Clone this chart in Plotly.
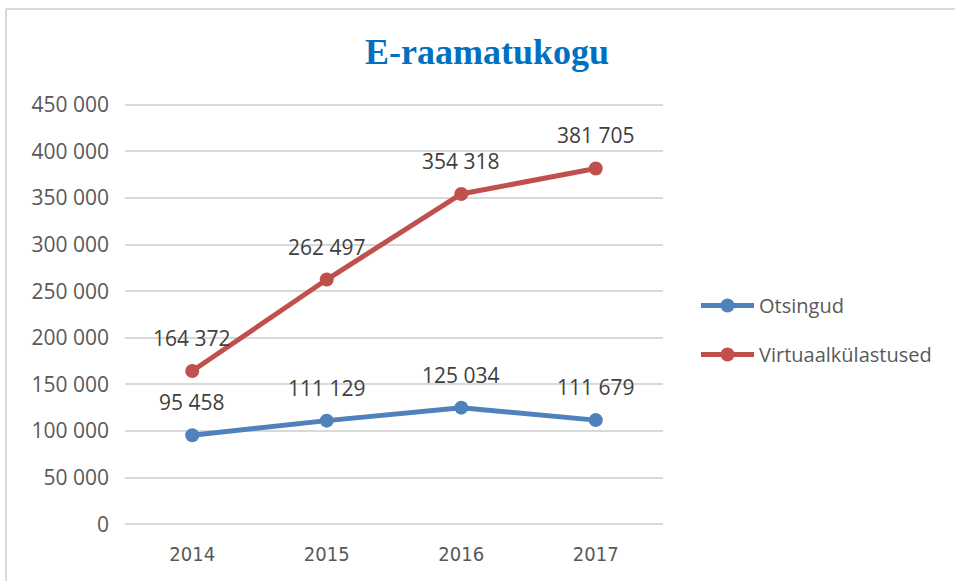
import plotly.graph_objects as go

years = ["2014", "2015", "2016", "2017"]
otsingud = [95458, 111129, 125034, 111679]
virtuaal = [164372, 262497, 354318, 381705]
series_names = ["Otsingud", "Virtuaalkülastused"]
colors = ["#4F81BD", "#C0504D"]
y_ticks = [0, 50000, 100000, 150000, 200000, 250000, 300000, 350000, 400000, 450000]


def fmt(v):
    return f"{v:,}".replace(",", " ")


W, H = 955, 581
L, R, T, B = 125, 292, 102, 54
pw, ph = W - L - R, H - T - B

fig = go.Figure()
for i, (name, vals) in enumerate(zip(series_names, [otsingud, virtuaal])):
    fig.add_trace(go.Scatter(
        x=years, y=vals, name=name, mode="lines+markers",
        line=dict(color=colors[i], width=5),
        marker=dict(color=colors[i], size=14),
        legendgroup=name,
    ))
    for k, yy in enumerate(vals):
        fig.add_annotation(x=k, y=yy, xref="x", yref="y", text=fmt(yy), showarrow=False,
                           yshift=33, font=dict(family="Open Sans", size=21, color="#404040"))


def px_x(p):
    return (p - L) / pw


def px_y(p):
    return (H - B - p) / ph


# chart border (top and left)
fig.add_shape(type="line", xref="paper", yref="paper", x0=px_x(6), x1=px_x(960), y0=px_y(9), y1=px_y(9),
              line=dict(color="#D9D9D9", width=2))
fig.add_shape(type="line", xref="paper", yref="paper", x0=px_x(6), x1=px_x(6), y0=px_y(9), y1=px_y(590),
              line=dict(color="#D9D9D9", width=2))

fig.update_layout(
    width=W, height=H,
    margin=dict(l=L, r=R, t=T, b=B),
    paper_bgcolor="white", plot_bgcolor="white",
    separators=", ",
    title=dict(text="<b>E-raamatukogu</b>", x=487 / W, xanchor="center", y=1 - 51 / H, yanchor="middle",
               font=dict(family="Liberation Serif", size=36, color="#0070C0")),
    xaxis=dict(type="category", range=[-0.5, 3.5], showgrid=False, showline=False, ticks="",
               tickfont=dict(family="DejaVu Sans Condensed, Liberation Sans Narrow, Open Sans", size=20, color="#595959"),
               ticklabelstandoff=13, fixedrange=True),
    yaxis=dict(range=[-3000, 453000], tickvals=y_ticks, tickformat=",d", showgrid=True,
               gridcolor="#D9D9D9", gridwidth=2, zeroline=False, showline=False, ticks="",
               tickfont=dict(family="Open Sans", size=21, color="#595959"),
               ticklabelstandoff=15),
    legend=dict(x=px_x(696), xanchor="left", y=px_y(330), yanchor="middle",
                font=dict(family="Open Sans", size=20, color="#595959"),
                tracegroupgap=20, itemwidth=53, bgcolor="rgba(0,0,0,0)"),
    showlegend=True,
)

fig.write_html("out.html", config={"displayModeBar": False},
               post_script="document.body.style.margin='0';")
